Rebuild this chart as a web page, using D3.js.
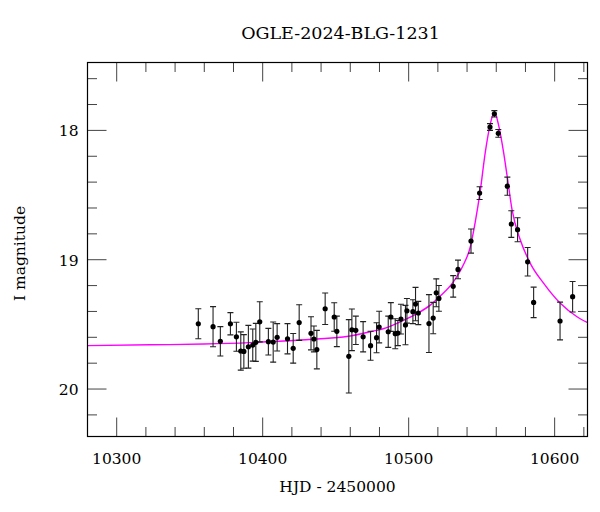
<!DOCTYPE html>
<html>
<head>
<meta charset="utf-8">
<script src="https://cdn.jsdelivr.net/npm/d3@7"></script>
<style>
  html, body { margin: 0; padding: 0; background: #fff; }
  text { font-family: "DejaVu Serif", serif; fill: #000; }
</style>
</head>
<body>
<svg id="chart" width="600" height="512"></svg>
<script>
// ---- data ----
const title = "OGLE-2024-BLG-1231";
const xLabel = "HJD - 2450000";
const yLabel = "I magnitude";

const hjd = [10355.9, 10366.0, 10371.0, 10377.9, 10382.0, 10385.0, 10387.1, 10390.2, 10393.2, 10395.3,
             10398.0, 10403.9, 10407.2, 10409.9, 10417.0, 10420.9, 10425.0, 10433.1, 10435.1, 10437.1,
             10442.8, 10449.0, 10450.8, 10459.0, 10461.1, 10463.8, 10468.8, 10473.9, 10478.0, 10479.8,
             10486.0, 10487.8, 10490.8, 10492.6, 10494.7, 10497.8, 10498.8, 10502.9, 10504.7, 10506.6,
             10513.9, 10516.8, 10518.9, 10520.7, 10530.5, 10533.8, 10542.7, 10548.6, 10555.7, 10558.7,
             10561.4, 10567.6, 10570.3, 10574.6, 10581.5, 10585.6, 10603.7, 10612.3];
const mag = [19.495, 19.518, 19.631, 19.495, 19.596, 19.706, 19.709, 19.673, 19.660, 19.639,
             19.480, 19.634, 19.637, 19.600, 19.611, 19.685, 19.486, 19.569, 19.613, 19.695,
             19.379, 19.443, 19.554, 19.747, 19.542, 19.546, 19.596, 19.665, 19.603, 19.521,
             19.557, 19.443, 19.572, 19.567, 19.459, 19.505, 19.395, 19.402, 19.343, 19.412,
             19.494, 19.451, 19.256, 19.299, 19.206, 19.075, 18.856, 18.485, 17.974, 17.872,
             18.023, 18.431, 18.724, 18.768, 19.016, 19.330, 19.474, 19.286];
const magErr = [0.116, 0.155, 0.114, 0.086, 0.112, 0.148, 0.130, 0.165, 0.124, 0.147,
                0.155, 0.103, 0.155, 0.106, 0.117, 0.115, 0.138, 0.128, 0.100, 0.149,
                0.122, 0.110, 0.118, 0.284, 0.161, 0.110, 0.117, 0.112, 0.116, 0.122,
                0.121, 0.111, 0.116, 0.097, 0.115, 0.152, 0.095, 0.092, 0.129, 0.090,
                0.224, 0.121, 0.108, 0.100, 0.083, 0.072, 0.093, 0.049, 0.026, 0.025,
                0.030, 0.070, 0.103, 0.093, 0.110, 0.118, 0.146, 0.118];

const modelHjd = [10280.3, 10322.8, 10359.8, 10391.4, 10425.7, 10459.9, 10473.6, 10482.6, 10494.2, 10505.9,
                  10514.8, 10521.6, 10530.5, 10537.4, 10542.2, 10545.6, 10549.1, 10552.5, 10555.9, 10558.7,
                  10561.6, 10565.0, 10567.8, 10570.8, 10576.5, 10583.3, 10592.5, 10603.9, 10615.3, 10622.6];
const modelMag = [19.664, 19.658, 19.652, 19.641, 19.621, 19.590, 19.557, 19.534, 19.480, 19.415,
                  19.351, 19.281, 19.173, 19.041, 18.902, 18.709, 18.462, 18.168, 17.951, 17.859,
                  17.959, 18.168, 18.381, 18.613, 18.848, 19.028, 19.183, 19.337, 19.441, 19.487];

const xTicks = [10300, 10400, 10500, 10600];
const yTicks = [18, 19, 20];

// ---- layout ----
const svg = d3.select("#chart");
svg.append("rect").attr("width", 600).attr("height", 512).attr("fill", "#fff");

const L = 87.5, R = 587.5, T = 62.5, B = 436.5;
const x = d3.scaleLinear().domain([10280, 10622.5]).range([L, R]);
const y = d3.scaleLinear().domain([17.475, 20.367]).range([T, B]);

const majorLen = 19, minorLen = 9.5;
const xMinor = d3.range(10300, 10622, 20).filter(v => !xTicks.includes(v));
const yMinor = d3.range(17.6, 20.37, 0.2).map(v => +v.toFixed(2)).filter(v => !yTicks.includes(v));

const tg = svg.append("g").attr("stroke", "#444").attr("stroke-width", 1);
function vtick(v, len) {
  tg.append("line").attr("x1", x(v)).attr("x2", x(v)).attr("y1", B).attr("y2", B - len);
  tg.append("line").attr("x1", x(v)).attr("x2", x(v)).attr("y1", T).attr("y2", T + len);
}
function htick(v, len) {
  tg.append("line").attr("y1", y(v)).attr("y2", y(v)).attr("x1", L).attr("x2", L + len);
  tg.append("line").attr("y1", y(v)).attr("y2", y(v)).attr("x1", R).attr("x2", R - len);
}
xTicks.forEach(v => vtick(v, majorLen));
xMinor.forEach(v => vtick(v, minorLen));
yTicks.forEach(v => htick(v, majorLen));
yMinor.forEach(v => htick(v, minorLen));

// tick labels
svg.append("g").selectAll("text").data(xTicks).join("text")
  .attr("x", d => x(d)).attr("y", 463.5)
  .attr("text-anchor", "middle").attr("font-size", 15.5)
  .text(d => d);
svg.append("g").selectAll("text").data(yTicks).join("text")
  .attr("x", 78.5).attr("y", d => y(d) + 6)
  .attr("text-anchor", "end").attr("font-size", 15.5)
  .text(d => d);

// axis titles
svg.append("text").attr("x", (L + R) / 2).attr("y", 491.5)
  .attr("text-anchor", "middle").attr("font-size", 15.5).text(xLabel);
svg.append("text").attr("transform", `translate(24.5,${(T + B) / 2 + 4}) rotate(-90)`)
  .attr("text-anchor", "middle").attr("font-size", 15.5).text(yLabel);
svg.append("text").attr("x", 340.5).attr("y", 39)
  .attr("text-anchor", "middle").attr("font-size", 17.5).text(title);

// clip
svg.append("clipPath").attr("id", "clip").append("rect")
  .attr("x", L).attr("y", T).attr("width", R - L).attr("height", B - T);
const plot = svg.append("g").attr("clip-path", "url(#clip)");

// model curve
const line = d3.line().x((d, i) => x(modelHjd[i])).y(d => y(d)).curve(d3.curveMonotoneX);
plot.append("path").datum(modelMag).attr("d", line)
  .attr("fill", "none").attr("stroke", "#ff00ff").attr("stroke-width", 1.4);

// error bars
const pts = hjd.map((h, i) => ({ h, m: mag[i], e: magErr[i] }));
const eb = plot.append("g").attr("stroke", "#222").attr("stroke-width", 1.1);
pts.forEach(p => {
  const px = x(p.h);
  eb.append("line").attr("x1", px).attr("x2", px).attr("y1", y(p.m - p.e)).attr("y2", y(p.m + p.e));
  eb.append("line").attr("x1", px - 3).attr("x2", px + 3).attr("y1", y(p.m - p.e)).attr("y2", y(p.m - p.e));
  eb.append("line").attr("x1", px - 3).attr("x2", px + 3).attr("y1", y(p.m + p.e)).attr("y2", y(p.m + p.e));
});
plot.append("g").selectAll("circle").data(pts).join("circle")
  .attr("cx", d => x(d.h)).attr("cy", d => y(d.m)).attr("r", 2.6).attr("fill", "#000");

// frame
svg.append("rect").attr("x", L).attr("y", T).attr("width", R - L).attr("height", B - T)
  .attr("fill", "none").attr("stroke", "#000").attr("stroke-width", 1.2);
</script>
</body>
</html>
